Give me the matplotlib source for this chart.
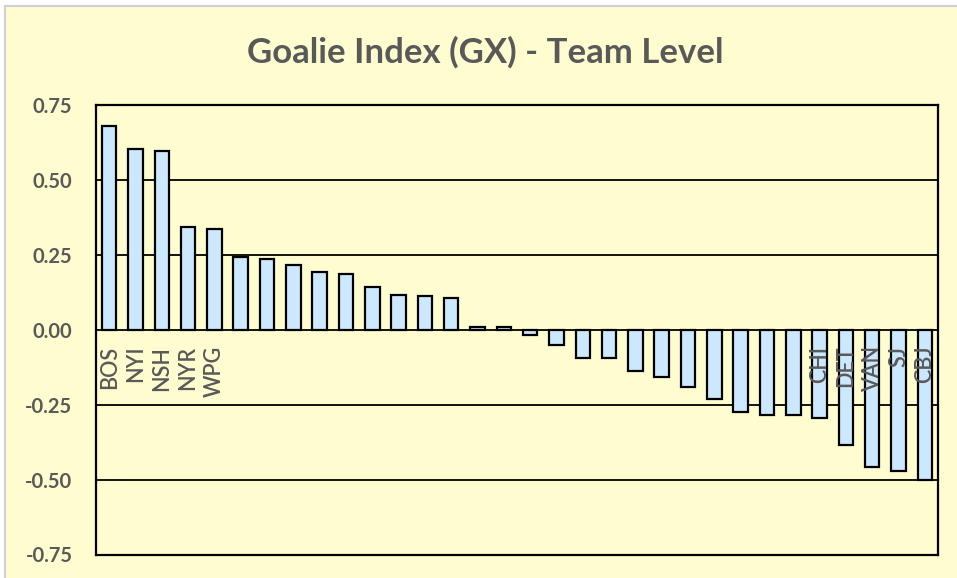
"""
Goalie Index (GX) by team, sorted bar chart
"""

import numpy as np
import matplotlib.pyplot as plt
from matplotlib.patches import Rectangle

# data - only some teams are labelled
teams = ["BOS", "NYI", "NSH", "NYR", "WPG", "", "", "", "", "", "", "", "", "", "", "",
         "", "", "", "", "", "", "", "", "", "", "", "CHI", "DET", "VAN", "SJ", "CBJ"]
gx = [0.681, 0.604, 0.596, 0.344, 0.337, 0.243, 0.236, 0.217, 0.194, 0.186, 0.141,
      0.117, 0.112, 0.107, 0.010, 0.009, -0.017, -0.050, -0.095, -0.095, -0.138,
      -0.159, -0.191, -0.232, -0.276, -0.284, -0.284, -0.296, -0.385, -0.457,
      -0.471, -0.503]
yticks = [-0.75, -0.5, -0.25, 0.0, 0.25, 0.5, 0.75]

yellow = "#FFFDD0"
blue = "#CCE8FF"
grey = "#595959"

plt.rcParams["font.family"] = ["Lato", "DejaVu Sans"]

fig = plt.figure(figsize=(9.57, 5.78), dpi=100, facecolor="white")

# yellow chart area with thin grey border on left/top
fig.patches.append(Rectangle((5 / 957, -0.1), 1.2, 0.1 + 572 / 578,
                             transform=fig.transFigure, facecolor=yellow,
                             edgecolor="#D0D0D0", linewidth=1.5, zorder=-10))

ax = fig.add_axes([96 / 957, 23.5 / 578, 842 / 957, 449.5 / 578])
ax.set_facecolor(yellow)

x = np.arange(len(gx))
ax.bar(x, gx, width=0.55, color=blue, edgecolor="black", linewidth=1.6, zorder=3)

# horizontal grid lines
for yv in yticks:
    ax.axhline(yv, color="black", linewidth=1.3, zorder=2)

ax.set_xlim(-0.5, len(gx) - 0.5)
ax.set_ylim(-0.75, 0.75)
ax.set_xticks([])
ax.set_yticks(yticks)
ax.set_yticklabels([f"{v:.2f}" for v in yticks], fontsize=14.5, fontweight="bold", color=grey)
ax.tick_params(axis="y", length=0, pad=17)
for s in ax.spines.values():
    s.set_linewidth(1.6)
    s.set_color("black")

# team labels just under the zero line
for xi, t in zip(x, teams):
    if t:
        ax.annotate(t, (xi, 0), xytext=(0, -16), textcoords="offset pixels",
                    rotation=90, ha="center", va="top", fontsize=15.5,
                    fontweight="semibold", color=grey, zorder=4)

fig.text(485 / 957, 1 - 52 / 578, "Goalie Index (GX) - Team Level", ha="center", va="center",
         fontsize=25, fontweight="bold", color=grey)

plt.savefig("out.png", dpi=100, facecolor=fig.get_facecolor())
